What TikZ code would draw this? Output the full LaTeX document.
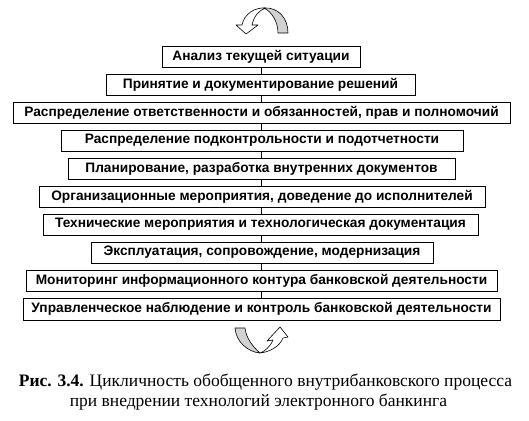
\documentclass[tikz,border=0pt]{standalone}
\usepackage{fontspec}
\setmainfont{Liberation Serif}
\setsansfont{Liberation Sans}
\usetikzlibrary{shadows}

\begin{document}
\begin{tikzpicture}[x=1pt, y=1pt,
  stage/.style={draw=black, fill=white, line width=0.7pt, font=\sffamily\bfseries\fontsize{13.7}{16}\selectfont, minimum height=21pt, inner sep=0pt, drop shadow={shadow xshift=1.3pt, shadow yshift=-1.3pt, fill=gray!70, opacity=1}},
  link/.style={black, line width=0.7pt},
  ribbon/.style={draw=black, line width=0.6pt, line join=round},
  caption/.style={font=\fontsize{17.5}{19}\selectfont, inner sep=0pt}]

\useasboundingbox (0,0) rectangle (529,-420);

% Top cycle arrow
\filldraw[ribbon, fill=gray!35] (264,-8) .. controls (278,-7) and (288,-18) .. (288,-33) -- (278,-33) .. controls (278,-22) and (272,-12) .. (264,-8) -- cycle;
\filldraw[ribbon, fill=white] (266,-8) .. controls (255,-7) and (244,-14) .. (242,-25) -- (236,-25) -- (246,-34) -- (258,-25) -- (252,-25) .. controls (254,-16) and (259,-10) .. (266,-8) -- cycle;

\coordinate (spine) at (261,0);

% Stages of the cycle
\path 
(261,-56.5) node [stage, minimum width=198pt] (s1) {Анализ текущей ситуации};

\path 
(260.5,-84.5) node [stage, minimum width=309pt] (s2) {Принятие и документирование решений};

\path 
(261.5,-112.5) node [stage, minimum width=497pt] (s3) {Распределение ответственности и обязанностей, прав и полномочий};

\path 
(262,-140.5) node [stage, minimum width=402pt] (s4) {Распределение подконтрольности и подотчетности};

\path 
(261.5,-168.5) node [stage, minimum width=387pt] (s5) {Планирование, разработка внутренних документов};

\path 
(262,-196.5) node [stage, minimum width=446pt] (s6) {Организационные мероприятия, доведение до исполнителей};

\path 
(260.5,-224.5) node [stage, minimum width=435pt] (s7) {Технические мероприятия и технологическая документация};

\path 
(262,-252.5) node [stage, minimum width=342pt] (s8) {Эксплуатация, сопровождение, модернизация};

\path 
(261.5,-280.5) node [stage, minimum width=471pt] (s9) {Мониторинг информационного контура банковской деятельности};

\path 
(261.5,-309) node [stage, minimum width=477pt, minimum height=22pt] (s10) {Управленческое наблюдение и контроль банковской деятельности};

% Links between stages
\draw[link] (s1.south -| spine) -- (s2.north -| spine);
\draw[link] (s2.south -| spine) -- (s3.north -| spine);
\draw[link] (s3.south -| spine) -- (s4.north -| spine);
\draw[link] (s4.south -| spine) -- (s5.north -| spine);
\draw[link] (s5.south -| spine) -- (s6.north -| spine);
\draw[link] (s6.south -| spine) -- (s7.north -| spine);
\draw[link] (s7.south -| spine) -- (s8.north -| spine);
\draw[link] (s8.south -| spine) -- (s9.north -| spine);
\draw[link] (s9.south -| spine) -- (s10.north -| spine);

% Bottom cycle arrow
\filldraw[ribbon, fill=gray!35] (235,-328) .. controls (236,-342) and (248,-352) .. (260,-353) .. controls (253,-347) and (246,-338) .. (245,-328) -- cycle;
\filldraw[ribbon, fill=white] (260,-353) .. controls (270,-352) and (280,-346) .. (283,-338) -- (288,-337) -- (280,-327) -- (267,-341) -- (273,-340) .. controls (270,-347) and (265,-351) .. (260,-353) -- cycle;

% Caption
\path 
(265.5,-382) node [caption] (cap1) {\textbf{Рис. 3.4.} Цикличность обобщенного внутрибанковского процесса};
\path 
(258.5,-402) node [caption] (cap2) {при внедрении технологий электронного банкинга};

\end{tikzpicture}
\end{document}
